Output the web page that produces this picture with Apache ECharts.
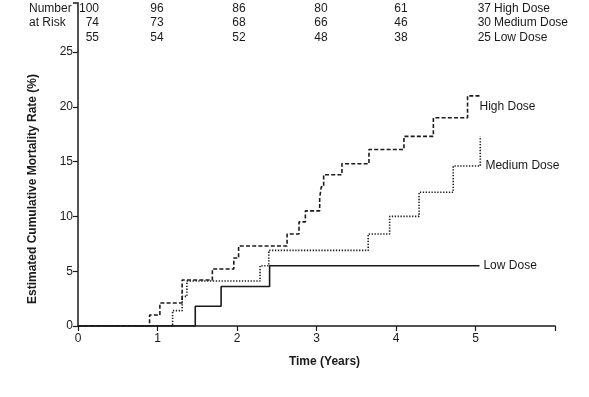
<!DOCTYPE html>
<html>
<head>
<meta charset="utf-8">
<script src="https://cdn.jsdelivr.net/npm/echarts@6/dist/echarts.min.js"></script>
<style>html,body{margin:0;background:#fff}#main{width:589px;height:397px}</style>
</head>
<body>
<div id="main"></div>
<script>
var FONT = '"Liberation Sans", Arial, sans-serif';
var INK = '#1a1a1a';

// [time in years, estimated cumulative mortality %]
var highDose = [[0,0],[0.90,1.0],[1.03,2.1],[1.31,4.2],[1.69,5.2],[1.96,6.2],[2.02,7.3],[2.63,8.4],[2.78,9.5],[2.86,10.5],[3.04,11.7],[3.06,12.7],[3.09,13.8],[3.32,14.8],[3.66,16.1],[4.10,17.3],[4.47,19.0],[4.90,21.0],[5.07,21.0]];
var mediumDose = [[0,0],[1.19,1.4],[1.31,2.7],[1.37,4.1],[2.29,5.5],[2.40,6.9],[3.65,8.4],[3.92,10.0],[4.29,12.2],[4.72,14.6],[5.06,17.3]];
var lowDose = [[0,0],[1.475,1.8],[1.80,3.6],[2.41,5.5],[5.05,5.5]];

// number at risk table
var riskHigh = [100, 96, 86, 80, 61, 37];
var riskMedium = [74, 73, 68, 66, 46, 30];
var riskLow = [55, 54, 52, 48, 38, 25];
var doseNames = ['High Dose', 'Medium Dose', 'Low Dose'];
var xTicks = [0, 1, 2, 3, 4, 5];

var chart = echarts.init(document.getElementById('main'));

function stepSeries(name, data, type) {
  return {
    name: name, type: 'line', step: 'end', data: data,
    showSymbol: false, symbol: 'none', animation: false,
    lineStyle: { color: INK, width: 1.6, type: type }
  };
}

chart.setOption({
  animation: false,
  grid: { left: 78, right: 34, top: 52, bottom: 71 },
  xAxis: {
    type: 'value', min: 0, max: 6, interval: 1,
    name: 'Time (Years)', nameLocation: 'middle', nameGap: 30,
    nameTextStyle: { fontFamily: FONT, fontSize: 12, fontWeight: 'bold', color: INK, padding: [0, 0, 0, 16] },
    axisLine: { lineStyle: { color: INK, width: 1.5 } },
    axisTick: { length: 5, lineStyle: { color: INK, width: 1.2 } },
    axisLabel: { fontFamily: FONT, fontSize: 12, color: INK, margin: 7,
      formatter: function (v) { return xTicks.indexOf(v) >= 0 ? String(v) : ''; } },
    splitLine: { show: false }
  },
  yAxis: {
    type: 'value', min: 0, max: 25, interval: 5,
    name: 'Estimated Cumulative Mortality Rate (%)', nameLocation: 'middle', nameGap: 39,
    nameTextStyle: { fontFamily: FONT, fontSize: 12, fontWeight: 'bold', color: INK },
    axisLine: { show: true, lineStyle: { color: INK, width: 1.5 } },
    axisTick: { show: true, length: 5, lineStyle: { color: INK, width: 1.2 } },
    axisLabel: { fontFamily: FONT, fontSize: 12, color: INK, margin: 5 },
    splitLine: { show: false }
  },
  series: [
    stepSeries('Low Dose', lowDose, 'solid'),
    stepSeries('Medium Dose', mediumDose, [1.3, 1.6]),
    stepSeries('High Dose', highDose, [4, 2.2])
  ]
});

// annotations: risk table, curve labels, axis extension
var g = [];
function txt(x, y, s, align) {
  g.push({ type: 'text', x: x, y: y, silent: true,
    style: { text: s, fill: INK, font: '12px ' + FONT, textAlign: align || 'left', textVerticalAlign: 'middle' } });
}
var axisX = chart.convertToPixel({ xAxisIndex: 0 }, 0);
var axisTop = chart.convertToPixel({ yAxisIndex: 0 }, 25);
g.push({ type: 'polyline', silent: true,
  shape: { points: [[axisX - 5, 3], [axisX, 3], [axisX, axisTop]] },
  style: { stroke: INK, lineWidth: 1.5, fill: null } });

var rowY = [9, 23, 38];
var colX = [99, 157, 239, 321, 401, 491];
txt(29, rowY[0], 'Number', 'left');
txt(29, rowY[1], 'at Risk', 'left');
[riskHigh, riskMedium, riskLow].forEach(function (row, r) {
  row.forEach(function (n, c) {
    var align = (c === 0 || c === row.length - 1) ? 'right' : 'center';
    txt(colX[c], rowY[r], String(n), align);
  });
  txt(colX[colX.length - 1] + 3, rowY[r], doseNames[r], 'left');
});

var labelAt = [[5.05, 20.0], [5.125, 14.6], [5.10, 5.5]];
doseNames.forEach(function (name, i) {
  var p = chart.convertToPixel({ gridIndex: 0 }, labelAt[i]);
  txt(p[0], p[1], name, 'left');
});
chart.setOption({ graphic: g });
</script>
</body>
</html>
